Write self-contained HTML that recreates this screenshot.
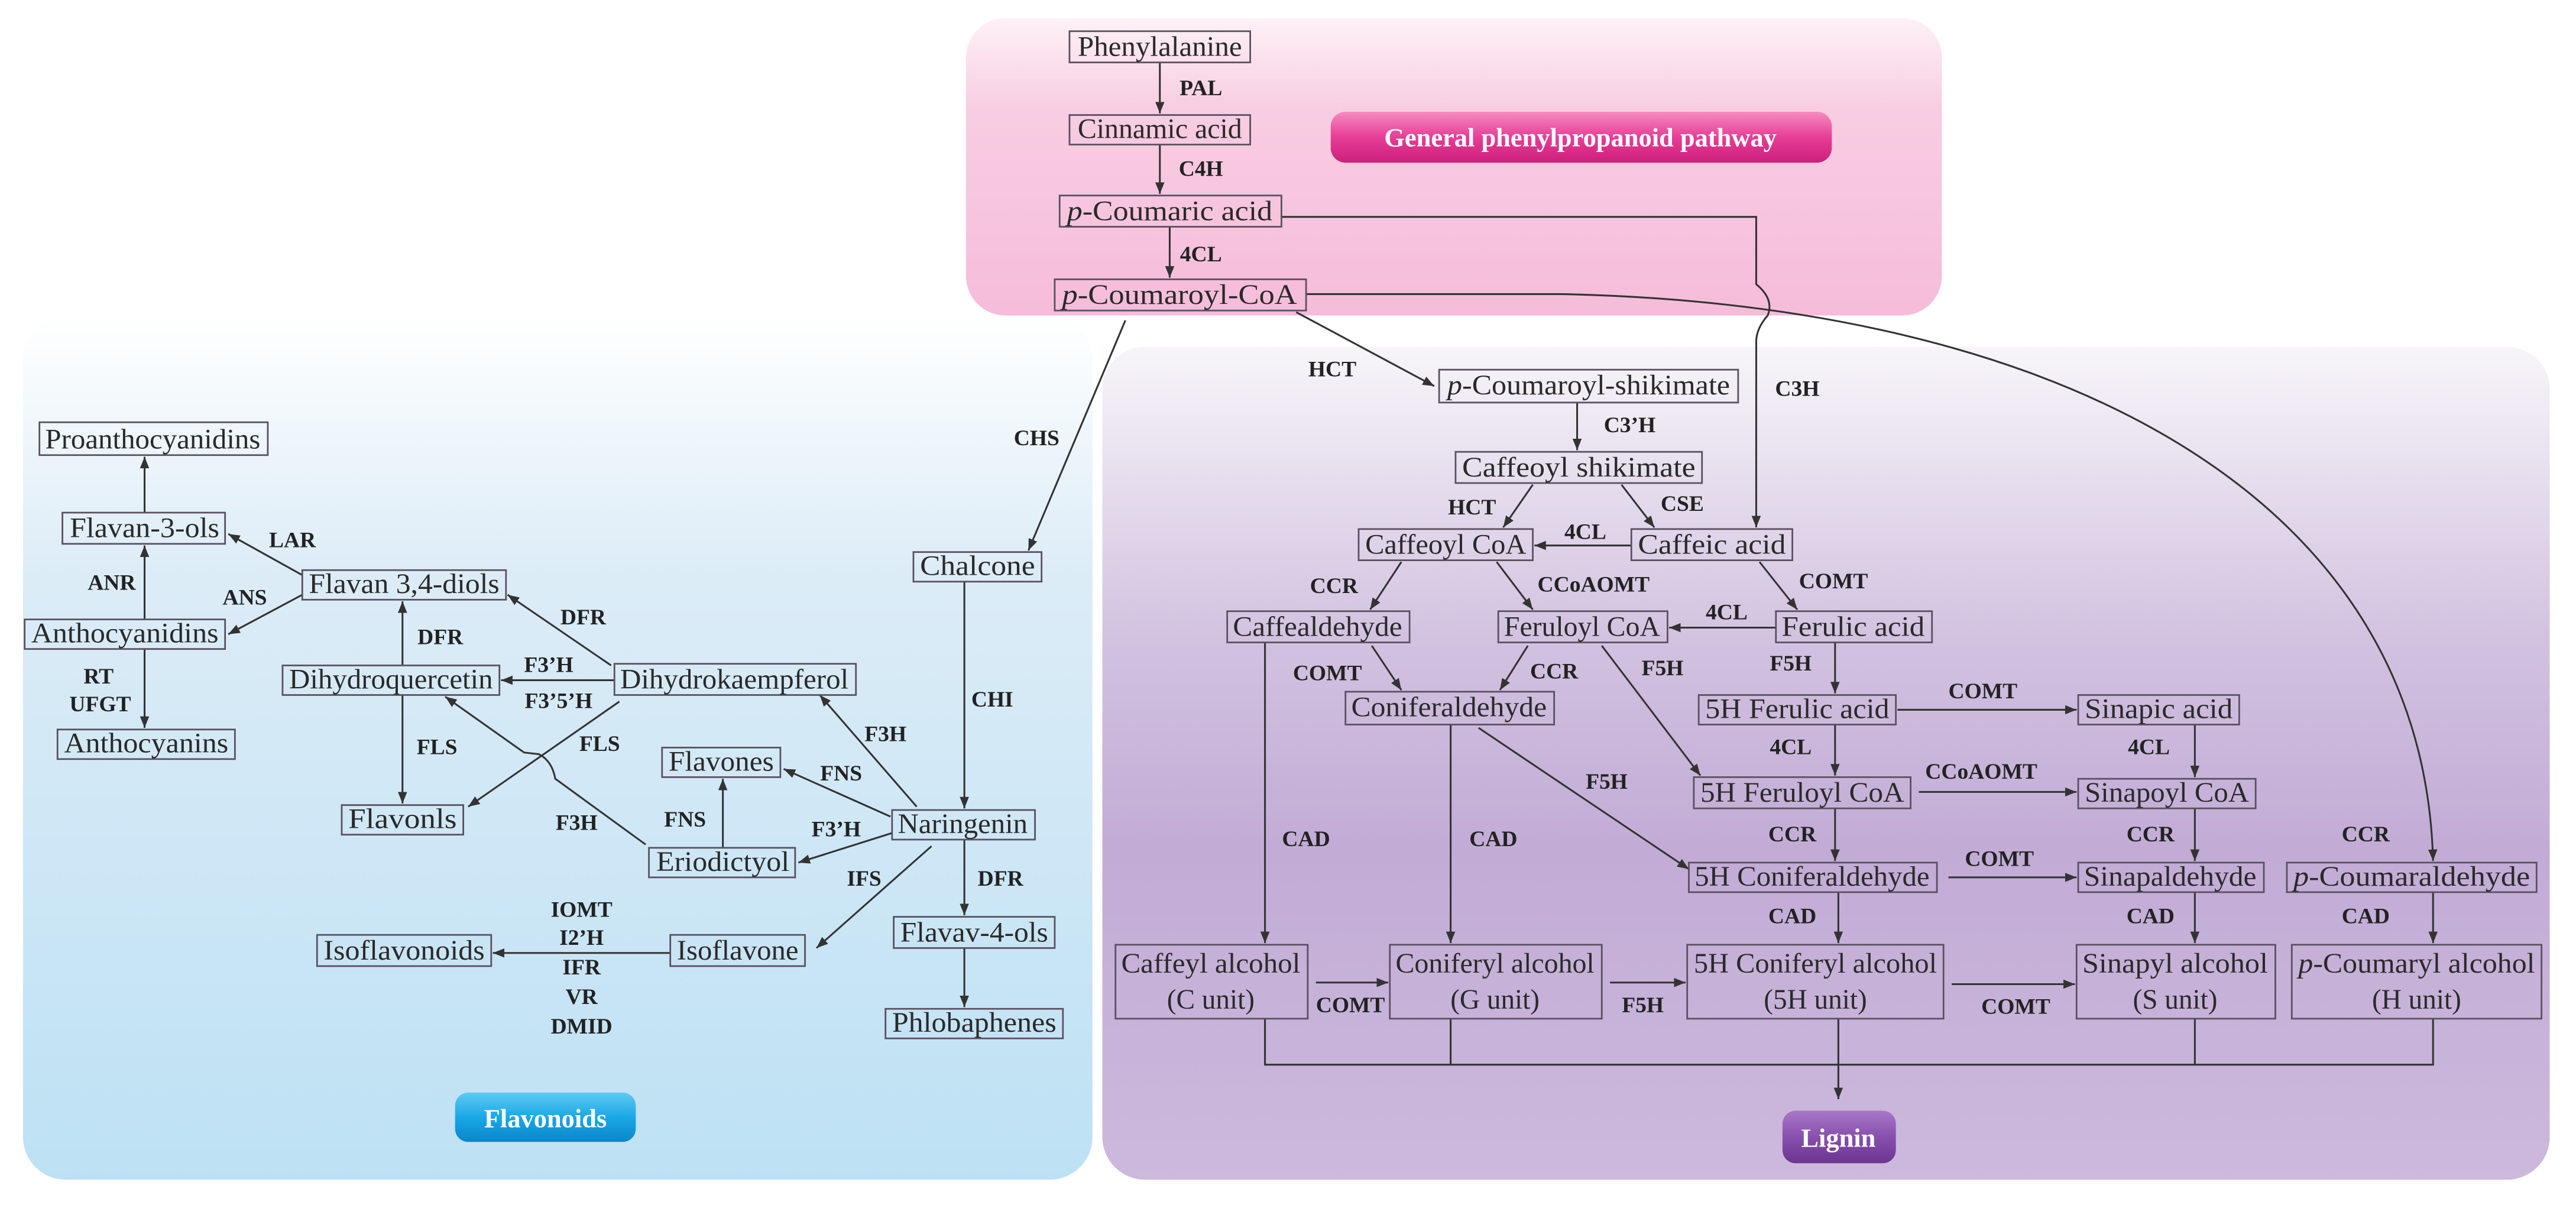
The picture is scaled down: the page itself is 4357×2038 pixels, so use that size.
<!DOCTYPE html>
<html><head><meta charset="utf-8"><style>
html,body{margin:0;padding:0;background:#fff;}
svg{display:block;}
.n{fill:none;stroke:#5a5060;stroke-width:1;}
.t{font-family:"Liberation Serif",serif;font-size:17px;fill:#2a2a2a;text-anchor:middle;}
.l{font-family:"Liberation Serif",serif;font-size:13.5px;font-weight:bold;fill:#222;text-anchor:middle;}
.e{fill:none;stroke:#333;stroke-width:1.1;}
</style></head><body>
<svg width="4357" height="2038" viewBox="0 0 1568 733.4" preserveAspectRatio="none" xmlns="http://www.w3.org/2000/svg">
<defs>
<marker id="a" viewBox="0 0 10 10" refX="10" refY="5" markerWidth="7" markerHeight="7" markerUnits="userSpaceOnUse" orient="auto"><path d="M0,1 L10,5 L0,9 Z" fill="#333"/></marker>
<linearGradient id="gp" x1="0" y1="0" x2="0" y2="1"><stop offset="0" stop-color="#fdf2f6"/><stop offset="0.3" stop-color="#f8cde2"/><stop offset="1" stop-color="#f6bcda"/></linearGradient>
<linearGradient id="gb" x1="0" y1="0" x2="0" y2="1"><stop offset="0" stop-color="#ffffff"/><stop offset="0.3" stop-color="#dcecf7"/><stop offset="1" stop-color="#bde1f4"/></linearGradient>
<linearGradient id="gv" x1="0" y1="0" x2="0" y2="1"><stop offset="0" stop-color="#f7f5f9"/><stop offset="0.35" stop-color="#d2c2e0"/><stop offset="0.6" stop-color="#c2acd6"/><stop offset="1" stop-color="#ccb9dc"/></linearGradient>
<linearGradient id="bm" x1="0" y1="0" x2="0" y2="1"><stop offset="0" stop-color="#f58cc0"/><stop offset="0.5" stop-color="#e73e96"/><stop offset="1" stop-color="#cc1f7c"/></linearGradient>
<linearGradient id="bb" x1="0" y1="0" x2="0" y2="1"><stop offset="0" stop-color="#5fcaf2"/><stop offset="0.5" stop-color="#19a8e6"/><stop offset="1" stop-color="#0b86c9"/></linearGradient>
<linearGradient id="bv" x1="0" y1="0" x2="0" y2="1"><stop offset="0" stop-color="#a878c8"/><stop offset="0.5" stop-color="#8750ad"/><stop offset="1" stop-color="#6b3590"/></linearGradient>
</defs>
<rect x="0" y="0" width="1568" height="733.4" fill="#fff"/>
<!-- panels -->
<rect x="14" y="192" width="651" height="526" rx="26" fill="url(#gb)"/>
<rect x="671" y="211" width="881" height="507" rx="26" fill="url(#gv)"/>
<rect x="588" y="11" width="594" height="181" rx="24" fill="url(#gp)"/>
<!-- badges -->
<rect x="810" y="68" width="305" height="31" rx="9" fill="url(#bm)"/>
<text x="962" y="89" style="font-family:'Liberation Serif',serif;font-size:16px;font-weight:bold;fill:#fff;text-anchor:middle">General phenylpropanoid pathway</text>
<rect x="277" y="665" width="110" height="30" rx="8" fill="url(#bb)"/>
<text x="332" y="686" style="font-family:'Liberation Serif',serif;font-size:16px;font-weight:bold;fill:#fff;text-anchor:middle">Flavonoids</text>
<rect x="1085" y="676" width="69" height="32" rx="8" fill="url(#bv)"/>
<text x="1119" y="698" style="font-family:'Liberation Serif',serif;font-size:16px;font-weight:bold;fill:#fff;text-anchor:middle">Lignin</text>

<!-- edges general -->
<g class="e">
<path d="M706,38 V69" marker-end="url(#a)"/>
<path d="M706,88 V118" marker-end="url(#a)"/>
<path d="M712,138 V169" marker-end="url(#a)"/>
<path d="M780,132 H1069 V173 Q1080,182 1076,192 Q1069,200 1069,208 V321" marker-end="url(#a)"/>
<path d="M795,179 L950,179 C1250,185 1475,300 1481,524" marker-end="url(#a)"/>
<path d="M789,190 L873,235" marker-end="url(#a)"/>
<path d="M685,195 L626,335" marker-end="url(#a)"/>
<!-- flavonoids -->
<path d="M88,312 V278" marker-end="url(#a)"/>
<path d="M88,377 V332" marker-end="url(#a)"/>
<path d="M88,395 V443" marker-end="url(#a)"/>
<path d="M184,350 L139,325" marker-end="url(#a)"/>
<path d="M184,362 L139,386" marker-end="url(#a)"/>
<path d="M245,405 V366" marker-end="url(#a)"/>
<path d="M372,405 L309,362" marker-end="url(#a)"/>
<path d="M374,414 H305" marker-end="url(#a)"/>
<path d="M245,423 V489" marker-end="url(#a)"/>
<path d="M377,427 L285,491" marker-end="url(#a)"/>
<path d="M393,514 L338,474 Q336,463 328,459 L319,458 L271,424" marker-end="url(#a)"/>
<path d="M558,491 L499,423" marker-end="url(#a)"/>
<path d="M542,497 L477,468" marker-end="url(#a)"/>
<path d="M440,516 V474" marker-end="url(#a)"/>
<path d="M543,507 L486,525" marker-end="url(#a)"/>
<path d="M567,515 L497,577" marker-end="url(#a)"/>
<path d="M587,354 V492" marker-end="url(#a)"/>
<path d="M587,511 V557" marker-end="url(#a)"/>
<path d="M587,577 V613" marker-end="url(#a)"/>
<path d="M408,580 H300" marker-end="url(#a)"/>
<!-- lignin -->
<path d="M960,245 V274" marker-end="url(#a)"/>
<path d="M933,295 L915,321" marker-end="url(#a)"/>
<path d="M987,295 L1007,321" marker-end="url(#a)"/>
<path d="M993,332 H934" marker-end="url(#a)"/>
<path d="M853,342 L834,371" marker-end="url(#a)"/>
<path d="M911,342 L933,371" marker-end="url(#a)"/>
<path d="M1071,342 L1094,371" marker-end="url(#a)"/>
<path d="M1081,382 H1016" marker-end="url(#a)"/>
<path d="M835,393 L853,420" marker-end="url(#a)"/>
<path d="M930,393 L913,420" marker-end="url(#a)"/>
<path d="M975,393 L1035,472" marker-end="url(#a)"/>
<path d="M1117,391 V422" marker-end="url(#a)"/>
<path d="M1155,432 H1264" marker-end="url(#a)"/>
<path d="M1117,441 V472" marker-end="url(#a)"/>
<path d="M1336,441 V473" marker-end="url(#a)"/>
<path d="M900,443 L1028,529" marker-end="url(#a)"/>
<path d="M1168,482 H1264" marker-end="url(#a)"/>
<path d="M1117,492 V524" marker-end="url(#a)"/>
<path d="M1336,492 V524" marker-end="url(#a)"/>
<path d="M1186,534 H1264" marker-end="url(#a)"/>
<path d="M770,391 V574" marker-end="url(#a)"/>
<path d="M883,441 V574" marker-end="url(#a)"/>
<path d="M1119,543 V574" marker-end="url(#a)"/>
<path d="M1336,543 V574" marker-end="url(#a)"/>
<path d="M1481,543 V574" marker-end="url(#a)"/>
<path d="M801,598 H845" marker-end="url(#a)"/>
<path d="M980,598 H1026" marker-end="url(#a)"/>
<path d="M1188,599 H1263" marker-end="url(#a)"/>
<path d="M770,620 V648 H1481 V620 M883,620 V648 M1336,620 V648"/>
<path d="M1119,620 V669" marker-end="url(#a)"/>
</g>

<!-- nodes -->
<g class="n">
<rect x="651" y="19" width="110" height="19"/><rect x="651" y="70" width="110" height="18"/>
<rect x="645" y="119" width="135" height="19"/><rect x="642" y="170" width="153" height="19"/>
<rect x="24" y="257" width="139" height="20"/><rect x="38" y="312" width="99" height="19"/>
<rect x="184" y="347" width="124" height="18"/><rect x="15" y="377" width="122" height="18"/>
<rect x="172" y="405" width="132" height="18"/><rect x="374" y="404" width="147" height="19"/>
<rect x="35" y="444" width="108" height="18"/><rect x="403" y="455" width="72" height="18"/>
<rect x="208" y="490" width="74" height="18"/><rect x="543" y="493" width="87" height="18"/>
<rect x="395" y="516" width="89" height="18"/><rect x="193" y="569" width="106" height="19"/>
<rect x="408" y="569" width="82" height="19"/><rect x="544" y="558" width="98" height="19"/>
<rect x="539" y="614" width="108" height="18"/><rect x="556" y="336" width="78" height="18"/>
<rect x="876" y="225" width="182" height="20"/><rect x="886" y="275" width="150" height="19"/>
<rect x="827" y="322" width="106" height="19"/><rect x="993" y="322" width="98" height="19"/>
<rect x="747" y="372" width="111" height="19"/><rect x="912" y="372" width="103" height="19"/>
<rect x="1081" y="372" width="95" height="19"/><rect x="819" y="421" width="127" height="20"/>
<rect x="1034" y="423" width="120" height="18"/><rect x="1265" y="423" width="98" height="18"/>
<rect x="1031" y="473" width="132" height="19"/><rect x="1265" y="474" width="108" height="18"/>
<rect x="1028" y="525" width="151" height="18"/><rect x="1265" y="525" width="113" height="18"/>
<rect x="1392" y="525" width="152" height="18"/>
<rect x="679" y="575" width="117" height="45"/><rect x="846" y="575" width="129" height="45"/>
<rect x="1027" y="575" width="156" height="45"/><rect x="1264" y="575" width="121" height="45"/>
<rect x="1395" y="575" width="152" height="45"/>
</g>
<g class="t">
<text x="706" y="34" textLength="100" lengthAdjust="spacingAndGlyphs">Phenylalanine</text>
<text x="706" y="84" textLength="100" lengthAdjust="spacingAndGlyphs">Cinnamic acid</text>
<text x="712" y="134" textLength="125" lengthAdjust="spacingAndGlyphs"><tspan font-style="italic">p</tspan>-Coumaric acid</text>
<text x="718" y="185" textLength="143" lengthAdjust="spacingAndGlyphs"><tspan font-style="italic">p</tspan>-Coumaroyl-CoA</text>
<text x="93" y="273" textLength="131" lengthAdjust="spacingAndGlyphs">Proanthocyanidins</text>
<text x="88" y="327" textLength="91" lengthAdjust="spacingAndGlyphs">Flavan-3-ols</text>
<text x="246" y="361" textLength="116" lengthAdjust="spacingAndGlyphs">Flavan 3,4-diols</text>
<text x="76" y="391" textLength="114" lengthAdjust="spacingAndGlyphs">Anthocyanidins</text>
<text x="238" y="419" textLength="124" lengthAdjust="spacingAndGlyphs">Dihydroquercetin</text>
<text x="447" y="419" textLength="139" lengthAdjust="spacingAndGlyphs">Dihydrokaempferol</text>
<text x="89" y="458" textLength="100" lengthAdjust="spacingAndGlyphs">Anthocyanins</text>
<text x="439" y="469" textLength="64" lengthAdjust="spacingAndGlyphs">Flavones</text>
<text x="245" y="504" textLength="66" lengthAdjust="spacingAndGlyphs">Flavonls</text>
<text x="586" y="507" textLength="79" lengthAdjust="spacingAndGlyphs">Naringenin</text>
<text x="440" y="530" textLength="81" lengthAdjust="spacingAndGlyphs">Eriodictyol</text>
<text x="246" y="584" textLength="98" lengthAdjust="spacingAndGlyphs">Isoflavonoids</text>
<text x="449" y="584" textLength="74" lengthAdjust="spacingAndGlyphs">Isoflavone</text>
<text x="593" y="573" textLength="90" lengthAdjust="spacingAndGlyphs">Flavav-4-ols</text>
<text x="593" y="628" textLength="100" lengthAdjust="spacingAndGlyphs">Phlobaphenes</text>
<text x="595" y="350" textLength="70" lengthAdjust="spacingAndGlyphs">Chalcone</text>
<text x="967" y="240" textLength="172" lengthAdjust="spacingAndGlyphs"><tspan font-style="italic">p</tspan>-Coumaroyl-shikimate</text>
<text x="961" y="290" textLength="142" lengthAdjust="spacingAndGlyphs">Caffeoyl shikimate</text>
<text x="880" y="337" textLength="98" lengthAdjust="spacingAndGlyphs">Caffeoyl CoA</text>
<text x="1042" y="337" textLength="90" lengthAdjust="spacingAndGlyphs">Caffeic acid</text>
<text x="802" y="387" textLength="103" lengthAdjust="spacingAndGlyphs">Caffealdehyde</text>
<text x="963" y="387" textLength="95" lengthAdjust="spacingAndGlyphs">Feruloyl CoA</text>
<text x="1128" y="387" textLength="87" lengthAdjust="spacingAndGlyphs">Ferulic acid</text>
<text x="882" y="436" textLength="119" lengthAdjust="spacingAndGlyphs">Coniferaldehyde</text>
<text x="1094" y="437" textLength="112" lengthAdjust="spacingAndGlyphs">5H Ferulic acid</text>
<text x="1314" y="437" textLength="90" lengthAdjust="spacingAndGlyphs">Sinapic acid</text>
<text x="1097" y="488" textLength="124" lengthAdjust="spacingAndGlyphs">5H Feruloyl CoA</text>
<text x="1319" y="488" textLength="100" lengthAdjust="spacingAndGlyphs">Sinapoyl CoA</text>
<text x="1103" y="539" textLength="143" lengthAdjust="spacingAndGlyphs">5H Coniferaldehyde</text>
<text x="1321" y="539" textLength="105" lengthAdjust="spacingAndGlyphs">Sinapaldehyde</text>
<text x="1468" y="539" textLength="144" lengthAdjust="spacingAndGlyphs"><tspan font-style="italic">p</tspan>-Coumaraldehyde</text>
<text x="737" y="592" textLength="109" lengthAdjust="spacingAndGlyphs">Caffeyl alcohol</text>
<text x="737" y="614">(C unit)</text>
<text x="910" y="592" textLength="121" lengthAdjust="spacingAndGlyphs">Coniferyl alcohol</text>
<text x="910" y="614">(G unit)</text>
<text x="1105" y="592" textLength="148" lengthAdjust="spacingAndGlyphs">5H Coniferyl alcohol</text>
<text x="1105" y="614">(5H unit)</text>
<text x="1324" y="592" textLength="113" lengthAdjust="spacingAndGlyphs">Sinapyl alcohol</text>
<text x="1324" y="614">(S unit)</text>
<text x="1471" y="592" textLength="144" lengthAdjust="spacingAndGlyphs"><tspan font-style="italic">p</tspan>-Coumaryl alcohol</text>
<text x="1471" y="614">(H unit)</text>
</g>
<!-- enzyme labels -->
<g class="l">
<text x="731" y="58">PAL</text><text x="731" y="107">C4H</text><text x="731" y="159">4CL</text>
<text x="631" y="271">CHS</text><text x="811" y="229">HCT</text><text x="1094" y="241">C3H</text>
<text x="178" y="333">LAR</text><text x="68" y="359">ANR</text><text x="149" y="368">ANS</text>
<text x="355" y="380">DFR</text><text x="268" y="392">DFR</text>
<text x="334" y="409">F3’H</text><text x="340" y="431">F3’5’H</text>
<text x="60" y="416">RT</text><text x="61" y="433">UFGT</text>
<text x="266" y="459">FLS</text><text x="365" y="457">FLS</text>
<text x="539" y="451">F3H</text><text x="604" y="430">CHI</text>
<text x="512" y="475">FNS</text><text x="351" y="505">F3H</text><text x="417" y="503">FNS</text>
<text x="509" y="509">F3’H</text><text x="526" y="539">IFS</text><text x="609" y="539">DFR</text>
<text x="354" y="558">IOMT</text><text x="354" y="575">I2’H</text><text x="354" y="593">IFR</text>
<text x="354" y="611">VR</text><text x="354" y="629">DMID</text>
<text x="992" y="263">C3’H</text><text x="896" y="313">HCT</text><text x="1024" y="311">CSE</text>
<text x="965" y="328">4CL</text><text x="812" y="361">CCR</text><text x="970" y="360">CCoAOMT</text>
<text x="1116" y="358">COMT</text><text x="1051" y="377">4CL</text>
<text x="808" y="414">COMT</text><text x="946" y="413">CCR</text><text x="1012" y="411">F5H</text>
<text x="1090" y="408">F5H</text><text x="1207" y="425">COMT</text>
<text x="1090" y="459">4CL</text><text x="1308" y="459">4CL</text>
<text x="978" y="480">F5H</text><text x="1206" y="474">CCoAOMT</text>
<text x="1091" y="512">CCR</text><text x="1309" y="512">CCR</text><text x="1440" y="512">CCR</text>
<text x="795" y="515">CAD</text><text x="909" y="515">CAD</text><text x="1217" y="527">COMT</text>
<text x="1091" y="562">CAD</text><text x="1309" y="562">CAD</text><text x="1440" y="562">CAD</text>
<text x="822" y="616">COMT</text><text x="1000" y="616">F5H</text><text x="1227" y="617">COMT</text>
</g>
</svg>
</body></html>
